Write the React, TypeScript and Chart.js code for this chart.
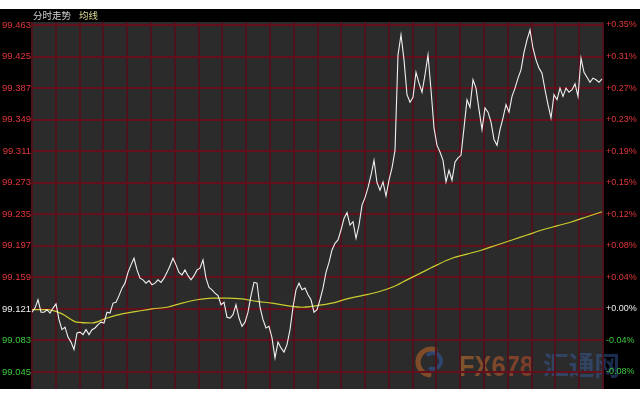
import React, { useEffect, useRef } from "react";
import { Chart, registerables } from "chart.js";

Chart.register(...registerables);

// ---------------- DATA ----------------
const prevClose = 99.121;

const leftTicks = [99.463, 99.425, 99.387, 99.349, 99.311, 99.273, 99.235, 99.197, 99.159, 99.121, 99.083, 99.045];
const leftTickLabels = ["99.463", "99.425", "99.387", "99.349", "99.311", "99.273", "99.235", "99.197", "99.159", "99.121", "99.083", "99.045"];
const rightTickLabels = ["+0.35%", "+0.31%", "+0.27%", "+0.23%", "+0.19%", "+0.15%", "+0.12%", "+0.08%", "+0.04%", "+0.00%", "-0.04%", "-0.08%"];

// price, one sample per time step
const priceValues = [
  99.117, 99.122, 99.132, 99.117, 99.117, 99.120, 99.116, 99.122, 99.127, 99.108,
  99.096, 99.099, 99.087, 99.081, 99.072, 99.092, 99.093, 99.090, 99.096, 99.090,
  99.096, 99.098, 99.102, 99.105, 99.104, 99.117, 99.116, 99.128, 99.129, 99.137,
  99.146, 99.152, 99.165, 99.174, 99.182, 99.168, 99.158, 99.156, 99.152, 99.155,
  99.150, 99.152, 99.156, 99.153, 99.158, 99.165, 99.173, 99.182, 99.174, 99.165,
  99.162, 99.168, 99.161, 99.156, 99.161, 99.168, 99.170, 99.180, 99.158, 99.147,
  99.144, 99.140, 99.137, 99.126, 99.129, 99.111, 99.110, 99.114, 99.126, 99.110,
  99.100, 99.105, 99.117, 99.137, 99.153, 99.152, 99.123, 99.108, 99.098, 99.100,
  99.086, 99.062, 99.081, 99.074, 99.069, 99.078, 99.096, 99.123, 99.144, 99.152,
  99.144, 99.146, 99.138, 99.132, 99.117, 99.120, 99.132, 99.146, 99.165, 99.177,
  99.192, 99.200, 99.204, 99.216, 99.230, 99.237, 99.222, 99.226, 99.206, 99.222,
  99.246, 99.255, 99.267, 99.282, 99.300, 99.273, 99.264, 99.274, 99.257, 99.276,
  99.291, 99.312, 99.427, 99.451, 99.421, 99.379, 99.370, 99.376, 99.406, 99.393,
  99.382, 99.403, 99.427, 99.385, 99.339, 99.318, 99.310, 99.300, 99.274, 99.288,
  99.276, 99.298, 99.303, 99.306, 99.339, 99.373, 99.364, 99.397, 99.387, 99.361,
  99.337, 99.363, 99.358, 99.346, 99.325, 99.318, 99.337, 99.351, 99.367, 99.358,
  99.377, 99.387, 99.399, 99.409, 99.430, 99.445, 99.457, 99.435, 99.421, 99.411,
  99.405, 99.385, 99.367, 99.351, 99.379, 99.373, 99.387, 99.377, 99.387, 99.382,
  99.385, 99.392, 99.377, 99.423, 99.406, 99.400, 99.394, 99.399, 99.397, 99.394,
  99.398,
];

// average line, read at every 5th time step
const avgSteps = [0, 5, 10, 15, 20, 25, 30, 35, 40, 45, 50, 55, 60, 65, 70, 75, 80, 85, 90, 95,
  100, 105, 110, 115, 120, 125, 130, 135, 140, 145, 150, 155, 160, 165, 170, 175, 180, 185, 190];
const avgValues = [
  99.120, 99.120, 99.115, 99.105, 99.104, 99.110, 99.115, 99.118, 99.121, 99.123,
  99.128, 99.132, 99.134, 99.134, 99.133, 99.130, 99.128, 99.125, 99.123, 99.125,
  99.128, 99.133, 99.137, 99.141, 99.147, 99.156, 99.165, 99.174, 99.182, 99.187,
  99.192, 99.198, 99.204, 99.210, 99.216, 99.221, 99.226, 99.232, 99.238,
];

const yMin = 99.0245;
const yMax = 99.4666;
const xMax = 190.33;
const xDivisions = 24;

// ---------------- STYLE ----------------
const RED = "#e0383c";
const GREEN = "#3cc83c";
const WHITE = "#f0f0f0";
const GRID_H = "#64101c";
const GRID_V = "#4e121c";
const PLOT_BG = "#2b2b2b";

const tickColor = (ctx: any) => {
  const v = ctx.tick ? ctx.tick.value : 0;
  if (Math.abs(v - prevClose) < 1e-6) return WHITE;
  return v > prevClose ? RED : GREEN;
};

const bgPlugin = {
  id: "bgPlugin",
  beforeDraw(chart: any) {
    const { ctx, chartArea } = chart;
    const W = chart.width;
    ctx.save();
    ctx.fillStyle = "#ffffff";
    ctx.fillRect(0, 0, W, chart.height);
    ctx.fillStyle = "#000000";
    ctx.fillRect(0, 9, W, chartArea.bottom - 9);
    ctx.fillStyle = PLOT_BG;
    ctx.fillRect(chartArea.left, chartArea.top, chartArea.right - chartArea.left, chartArea.bottom - chartArea.top);

    // header
    ctx.font = '9.5px "Noto Sans CJK SC"';
    ctx.textBaseline = "middle";
    ctx.fillStyle = "#d4d4d4";
    ctx.fillText("分时走势", 33, 15.5);
    ctx.fillStyle = "#d8d890";
    ctx.fillText("均线", 79, 15.5);

    // watermark
    ctx.globalAlpha = 0.6;
    ctx.lineCap = "round";
    ctx.strokeStyle = "#b8622a";
    ctx.lineWidth = 5;
    ctx.beginPath();
    ctx.arc(431, 362, 13, Math.PI * 0.55, Math.PI * 1.6);
    ctx.stroke();
    ctx.strokeStyle = "#30569a";
    ctx.lineWidth = 4;
    ctx.beginPath();
    ctx.arc(433, 361, 8, Math.PI * 1.3, Math.PI * 2.6);
    ctx.stroke();

    ctx.font = 'bold 30px "Liberation Sans"';
    ctx.textBaseline = "alphabetic";
    const fxW = ctx.measureText("FX678").width;
    ctx.save();
    ctx.translate(459, 376);
    ctx.scale(75 / fxW, 1);
    const grad = ctx.createLinearGradient(0, 0, fxW, 0);
    grad.addColorStop(0, "#b8702c");
    grad.addColorStop(1, "#b0442a");
    ctx.fillStyle = grad;
    ctx.fillText("FX678", 0, 0);
    ctx.restore();

    ctx.globalAlpha = 0.45;
    ctx.font = 'bold 26px "Noto Sans CJK SC"';
    const hW = ctx.measureText("汇通网").width;
    ctx.save();
    ctx.translate(543, 375);
    ctx.scale(77 / hW, 1);
    ctx.fillStyle = "#3a64aa";
    ctx.fillText("汇通网", 0, 0);
    ctx.restore();
    ctx.restore();
  },
};

export default function App() {
  const ref = useRef<HTMLCanvasElement | null>(null);

  useEffect(() => {
    if (!ref.current) return;
    const sortedTicks = [...leftTicks].sort((a, b) => a - b);
    const chart = new Chart(ref.current, {
      type: "line",
      data: {
        datasets: [
          {
            label: "分时走势",
            data: priceValues.map((v, i) => ({ x: i, y: v })),
            borderColor: "#f0f0f0",
            borderWidth: 1.1,
            pointRadius: 0,
            tension: 0,
            yAxisID: "y",
          },
          {
            label: "均线",
            data: avgSteps.map((s, i) => ({ x: s, y: avgValues[i] })),
            borderColor: "#cccc30",
            borderWidth: 1.2,
            pointRadius: 0,
            cubicInterpolationMode: "monotone",
            yAxisID: "y",
          },
        ],
      },
      options: {
        responsive: false,
        animation: false,
        layout: { padding: { top: 22, bottom: 11, left: 0, right: 0 } },
        plugins: { legend: { display: false }, tooltip: { enabled: false } },
        scales: {
          x: {
            type: "linear",
            min: 0,
            max: xMax,
            ticks: { display: false },
            grid: { color: GRID_V, lineWidth: 2, drawTicks: false },
            border: { display: false },
            afterBuildTicks: (s: any) => {
              s.ticks = Array.from({ length: xDivisions + 1 }, (_, k) => ({ value: (k * xMax) / xDivisions }));
            },
            afterFit: (s: any) => {
              s.height = 0;
            },
          },
          y: {
            position: "left",
            min: yMin,
            max: yMax,
            grid: { color: GRID_H, lineWidth: 2, drawTicks: false },
            border: { display: false },
            afterBuildTicks: (s: any) => {
              s.ticks = sortedTicks.map((v) => ({ value: v }));
            },
            ticks: {
              padding: 1,
              color: tickColor,
              font: { family: '"Liberation Sans"', size: 9.5 },
              callback: (v: any) => leftTickLabels[leftTicks.indexOf(Number(v))],
            },
            afterFit: (s: any) => {
              s.width = 32;
            },
          },
          y2: {
            position: "right",
            min: yMin,
            max: yMax,
            grid: { display: false, drawTicks: false },
            border: { display: false },
            afterBuildTicks: (s: any) => {
              s.ticks = sortedTicks.map((v) => ({ value: v }));
            },
            ticks: {
              padding: 3,
              color: tickColor,
              font: { family: '"Liberation Sans"', size: 9 },
              callback: (v: any) => rightTickLabels[leftTicks.indexOf(Number(v))],
            },
            afterFit: (s: any) => {
              s.width = 37;
            },
          },
        },
      } as any,
      plugins: [bgPlugin],
    });
    return () => chart.destroy();
  }, []);

  return (
    <div style={{ position: "fixed", left: 0, top: 0, width: 640, height: 400, background: "#fff" }}>
      <canvas ref={ref} width={640} height={400} style={{ display: "block", width: 640, height: 400 }} />
    </div>
  );
}
